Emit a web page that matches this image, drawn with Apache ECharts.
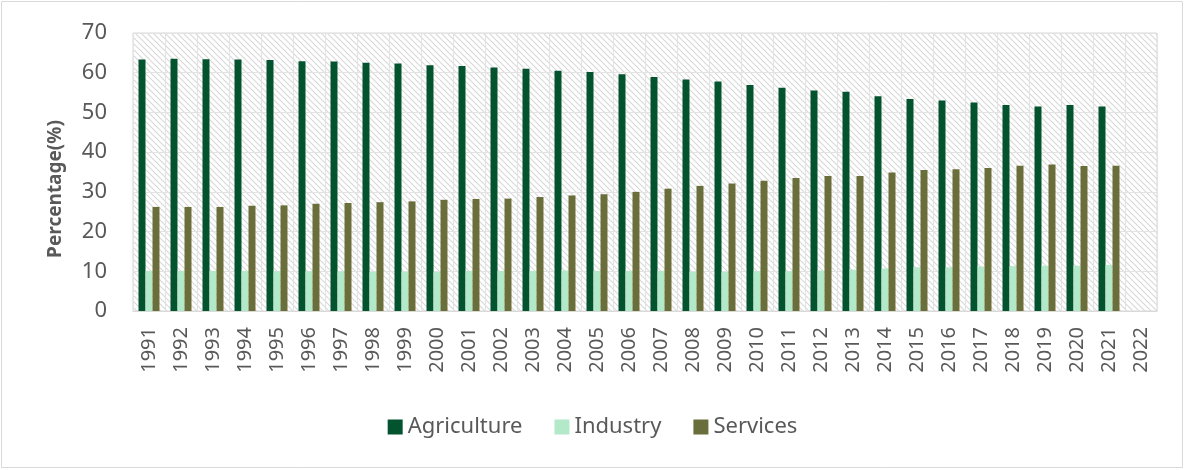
<!DOCTYPE html>
<html>
<head>
<meta charset="utf-8">
<script src="https://cdn.jsdelivr.net/npm/echarts@6/dist/echarts.min.js"></script>
<style>
  html, body { margin: 0; padding: 0; background: #fff; }
  #chart { width: 1185px; height: 470px; }
</style>
</head>
<body>
<div id="chart"></div>
<script>
const years = ['1991', '1992', '1993', '1994', '1995', '1996', '1997', '1998', '1999', '2000',
  '2001', '2002', '2003', '2004', '2005', '2006', '2007', '2008', '2009', '2010',
  '2011', '2012', '2013', '2014', '2015', '2016', '2017', '2018', '2019', '2020',
  '2021', '2022'];

const agriculture = [63.3, 63.5, 63.4, 63.3, 63.2, 62.9, 62.8, 62.5, 62.3, 61.9,
  61.7, 61.3, 61.0, 60.5, 60.2, 59.6, 58.9, 58.3, 57.8, 56.9,
  56.2, 55.5, 55.2, 54.1, 53.4, 53.0, 52.5, 51.9, 51.5, 51.9,
  51.5, null];

const industry = [10.1, 10.1, 10.1, 10.1, 10.0, 10.0, 10.0, 9.9, 9.9, 9.9,
  10.1, 10.1, 10.1, 10.2, 10.1, 10.1, 10.1, 9.9, 9.9, 10.0,
  10.0, 10.2, 10.4, 10.7, 11.0, 11.0, 11.2, 11.3, 11.4, 11.4,
  11.6, null];

const services = [26.2, 26.2, 26.2, 26.5, 26.6, 27.0, 27.2, 27.4, 27.6, 28.0,
  28.2, 28.3, 28.7, 29.1, 29.4, 30.0, 30.8, 31.5, 32.1, 32.8,
  33.5, 34.0, 34.0, 34.9, 35.5, 35.7, 36.0, 36.6, 36.9, 36.5,
  36.6, null];

const yTicks = { min: 0, max: 70, interval: 10 };

// hatch pattern for the plot area
function makeHatch() {
  const c = document.createElement('canvas');
  c.width = 6;
  c.height = 6;
  const ctx = c.getContext('2d');
  ctx.fillStyle = '#ffffff';
  ctx.fillRect(0, 0, 6, 6);
  ctx.strokeStyle = '#d8d8d8';
  ctx.lineWidth = 1.1;
  ctx.beginPath();
  ctx.moveTo(0, 0); ctx.lineTo(6, 6);
  ctx.moveTo(-3, 3); ctx.lineTo(3, 9);
  ctx.moveTo(3, -3); ctx.lineTo(9, 3);
  ctx.stroke();
  return c;
}

const chart = echarts.init(document.getElementById('chart'));
const textColor = '#595959';
const font = '"Noto Sans", sans-serif';

function bar(name, data, color) {
  return {
    name: name,
    type: 'bar',
    data: data,
    barWidth: 7,
    barGap: '0%',
    itemStyle: { color: color },
    emphasis: { disabled: true }
  };
}

chart.setOption({
  animation: false,
  textStyle: { fontFamily: font },
  graphic: [{
    type: 'rect',
    shape: { x: 1.5, y: 1.5, width: 1181, height: 466 },
    style: { fill: 'none', stroke: '#d9d9d9', lineWidth: 1 },
    silent: true
  }],
  grid: {
    left: 133,
    right: 28,
    top: 33,
    bottom: 159,
    show: true,
    borderColor: '#d9d9d9',
    borderWidth: 1,
    backgroundColor: { image: makeHatch(), repeat: 'repeat' }
  },
  legend: {
    bottom: 27,
    left: 'center',
    itemWidth: 15,
    itemHeight: 15,
    itemGap: 32,
    icon: 'rect',
    textStyle: { color: textColor, fontSize: 22, fontFamily: font },
    data: ['Agriculture', 'Industry', 'Services']
  },
  xAxis: {
    type: 'category',
    data: years,
    axisLine: { lineStyle: { color: '#d9d9d9' } },
    axisTick: { show: false },
    splitLine: { show: true, interval: 0, lineStyle: { color: '#e3e3e3' } },
    axisLabel: {
      interval: 0,
      rotate: 90,
      color: textColor,
      fontSize: 20,
      margin: 16,
      fontFamily: font
    }
  },
  yAxis: {
    type: 'value',
    min: yTicks.min,
    max: yTicks.max,
    interval: yTicks.interval,
    name: 'Percentage(%)',
    nameLocation: 'middle',
    nameGap: 68,
    nameTextStyle: {
      color: textColor,
      fontSize: 19,
      fontWeight: 'bold',
      fontFamily: font,
      padding: [0, 34, 0, 0]
    },
    axisLine: { show: false },
    axisTick: { show: false },
    splitLine: { lineStyle: { color: '#e3e3e3' } },
    axisLabel: { color: textColor, fontSize: 22, margin: 26, fontFamily: font }
  },
  series: [
    bar('Agriculture', agriculture, '#03532e'),
    bar('Industry', industry, '#b3e9c8'),
    bar('Services', services, '#6a6e3b')
  ]
});
</script>
</body>
</html>
